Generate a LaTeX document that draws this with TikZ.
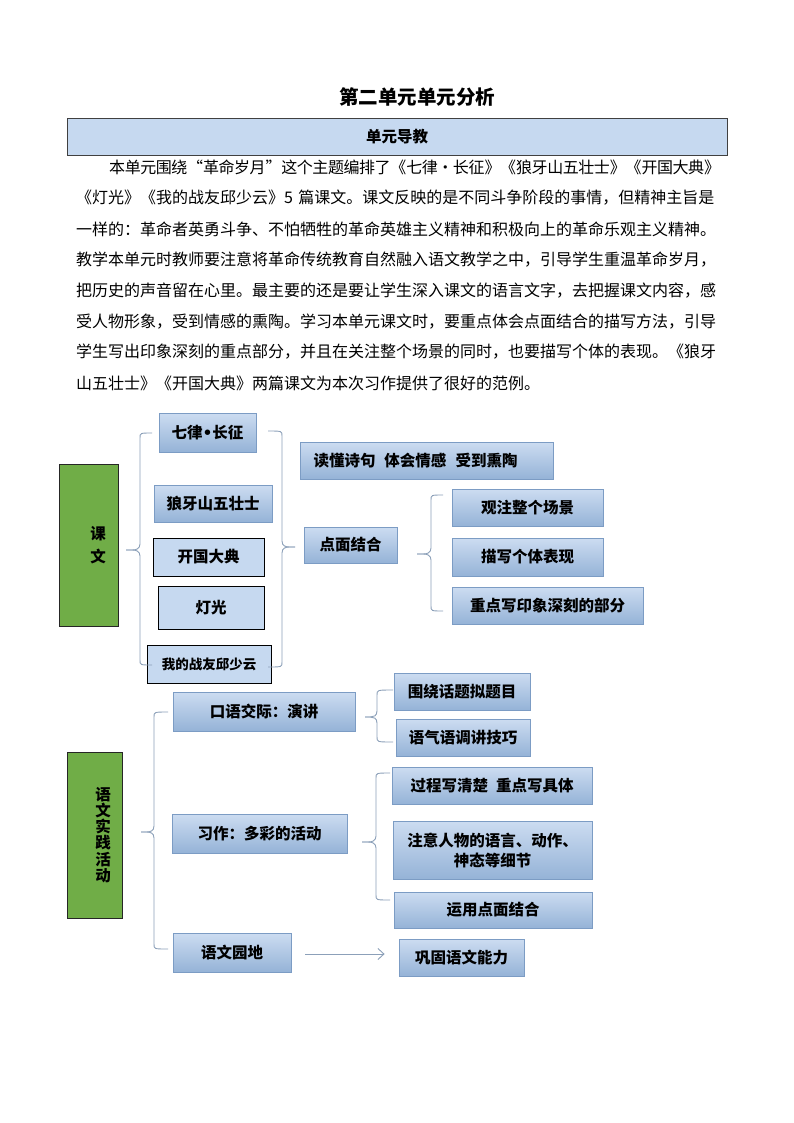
\documentclass[tikz,border=0pt]{standalone}
\usepackage{fontspec}
\setmainfont{Noto Sans CJK SC}
\newfontfamily\dvfont{DejaVu Sans}
\usetikzlibrary{arrows.meta,calc}
\definecolor{gtop}{HTML}{CCDCF1}
\definecolor{gbot}{HTML}{95B3D7}
\definecolor{gline}{HTML}{7C9CC4}
\definecolor{flat}{HTML}{C6D9F0}
\definecolor{leaf}{HTML}{70AD47}
\definecolor{brc}{HTML}{8CA0B9}
\XeTeXlinebreaklocale "zh"
\XeTeXlinebreakskip=0pt plus 4pt minus 1.5pt
\newcommand\mybrace[6]{% tip x, mid y, spine x, top y, bottom y, end x
  \draw[bracestyle] (#6,#4) .. controls (#3,#4) .. (#3,#4+5) -- (#3,#2-6)
    .. controls (#3,#2-1) and ($(#3,#2)!0.3!(#1,#2)$) .. ($(#3,#2)!0.55!(#1,#2)$) -- (#1,#2);
  \draw[bracestyle] (#1,#2) -- ($(#3,#2)!0.55!(#1,#2)$)
    .. controls ($(#3,#2)!0.3!(#1,#2)$) and (#3,#2+1) .. (#3,#2+6) -- (#3,#5-5)
    .. controls (#3,#5) .. (#6,#5);
}
\tikzset{
  boxfont/.style={font=\bfseries\fontsize{15.5}{18}\selectfont},
  gbox/.style={draw=gline, line width=0.8pt, top color=gtop, bottom color=gbot, inner sep=0pt, boxfont},
  fbox/.style={draw=black, line width=1pt, fill=flat, inner sep=0pt, boxfont},
  greenbox/.style={draw=black!85, line width=1pt, fill=leaf, inner sep=0pt, align=center},
  bracestyle/.style={draw=brc, line width=0.9pt},
  arrowline/.style={draw=brc, line width=0.9pt, -{Straight Barb[length=6pt,width=11pt]}},
  para/.style={anchor=west, inner sep=0pt, font=\fontsize{16}{19}\selectfont},
}
\begin{document}
\begin{tikzpicture}[x=1pt,y=-1pt]
\useasboundingbox[fill=white] (0,0) rectangle (794,1123);

% title and header
\node[font=\bfseries\fontsize{19.5}{22}\selectfont] (title) at (417,97) {第二单元单元分析};
\node[draw=black!75, line width=0.8pt, fill=flat, minimum width=660, minimum height=37, inner sep=0pt, boxfont] (head) at (397,136.5) {单元导教};

% paragraph
\node[para, text width=644] (p1) at (76,167) {\noindent\parfillskip=0pt\hspace*{33pt}本单元围绕“革命岁月”这个主题编排了《七律·长征》《狼牙山五壮士》《开国大典》};
\node[para, text width=644] (p2) at (76,198) {\noindent\parfillskip=0pt 《灯光》《我的战友邱少云》5 篇课文。课文反映的是不同斗争阶段的事情，但精神主旨是};
\node[para, text width=644] (p3) at (76,229) {\noindent\parfillskip=0pt 一样的：革命者英勇斗争、不怕牺牲的革命英雄主义精神和积极向上的革命乐观主义精神。};
\node[para, text width=644] (p4) at (76,260) {\noindent\parfillskip=0pt 教学本单元时教师要注意将革命传统教育自然融入语文教学之中，引导学生重温革命岁月，};
\node[para, text width=644] (p5) at (76,291) {\noindent\parfillskip=0pt 把历史的声音留在心里。最主要的还是要让学生深入课文的语言文字，去把握课文内容，感};
\node[para, text width=644] (p6) at (76,322) {\noindent\parfillskip=0pt 受人物形象，受到情感的熏陶。学习本单元课文时，要重点体会点面结合的描写方法，引导};
\node[para, text width=644] (p7) at (76,352) {\noindent\parfillskip=0pt 学生写出印象深刻的重点部分，并且在关注整个场景的同时，也要描写个体的表现。《狼牙};
\node[para] (p8) at (76,383) {山五壮士》《开国大典》两篇课文为本次习作提供了很好的范例。};

% upper diagram
\node[greenbox, minimum width=59, minimum height=162, font=\bfseries\fontsize{15.5}{23}\selectfont] (kewen) at (88.5,545) {\hspace*{19pt}课\\\hspace*{19pt}文};
\node[gbox, minimum width=97, minimum height=39] (qilv) at (207.5,432.5) {七律{\dvfont\bfseries •}长征};
\node[gbox, minimum width=118, minimum height=37] (langya) at (213,503.5) {狼牙山五壮士};
\node[fbox, minimum width=111, minimum height=38] (kaiguo) at (208.5,557) {开国大典};
\node[fbox, minimum width=106, minimum height=43] (deng) at (211,607.5) {灯光};
\node[fbox, minimum width=124, minimum height=38, font=\bfseries\fontsize{13.5}{16}\selectfont] (zhanyou) at (209,664) {我的战友邱少云};
\node[gbox, minimum width=253, minimum height=37] (dudong) at (426.5,460.5) {读懂诗句\hspace{9pt}体会情感\hspace{9pt}受到熏陶\hspace*{22pt}};
\node[gbox, minimum width=93, minimum height=36] (dianmian) at (350.5,545) {点面结合};
\node[gbox, minimum width=151, minimum height=37] (guanzhu) at (527.5,507.5) {观注整个场景};
\node[gbox, minimum width=151, minimum height=38] (miaoxie) at (527.5,557) {描写个体表现};
\node[gbox, minimum width=191, minimum height=37] (zhongdian) at (547.5,605.5) {重点写印象深刻的部分};

\mybrace{126}{550}{140}{433}{665}{152}
\mybrace{295}{547}{282}{431}{667}{268}
\mybrace{417}{554}{431}{495}{611}{443}

% lower diagram
\node[greenbox, minimum width=55, minimum height=166, font=\bfseries\fontsize{15.5}{16.2}\selectfont] (shijian) at (94.5,835) {\hspace*{17pt}语\\\hspace*{17pt}文\\\hspace*{17pt}实\\\hspace*{17pt}践\\\hspace*{17pt}活\\\hspace*{17pt}动};
\node[gbox, minimum width=182, minimum height=39] (kouyu) at (264,711.5) {口语交际：演讲};
\node[gbox, minimum width=175, minimum height=39] (xizuo) at (259.5,833.5) {习作：多彩的活动};
\node[gbox, minimum width=118, minimum height=39] (yuandi) at (232,952.5) {语文园地};
\node[gbox, minimum width=136, minimum height=37] (weirao) at (462,691.5) {围绕话题拟题目};
\node[gbox, minimum width=134, minimum height=37] (yuqi) at (463,737.5) {语气语调讲技巧};
\node[gbox, minimum width=200, minimum height=37] (guocheng) at (492,785.5) {过程写清楚\hspace{8pt}重点写具体};
\node[gbox, minimum width=199, minimum height=58, align=center, font=\bfseries\fontsize{15.5}{20}\selectfont] (zhuyi) at (492.5,850) {注意人物的语言、动作、\\神态等细节};
\node[gbox, minimum width=198, minimum height=36] (yunyong) at (493,910) {运用点面结合};
\node[gbox, minimum width=125, minimum height=37] (gonggu) at (461.5,957.5) {巩固语文能力};

\mybrace{141}{832}{154}{712}{949}{168}
\mybrace{365}{717}{377}{690}{742}{393}
\mybrace{362}{842}{376}{773}{900}{390}

\draw[arrowline] ([xshift=14pt,yshift=-1.5pt]yuandi.east) -- ([xshift=-14pt,yshift=-1.5pt]yuandi.east -| gonggu.west);
\end{tikzpicture}
\end{document}
